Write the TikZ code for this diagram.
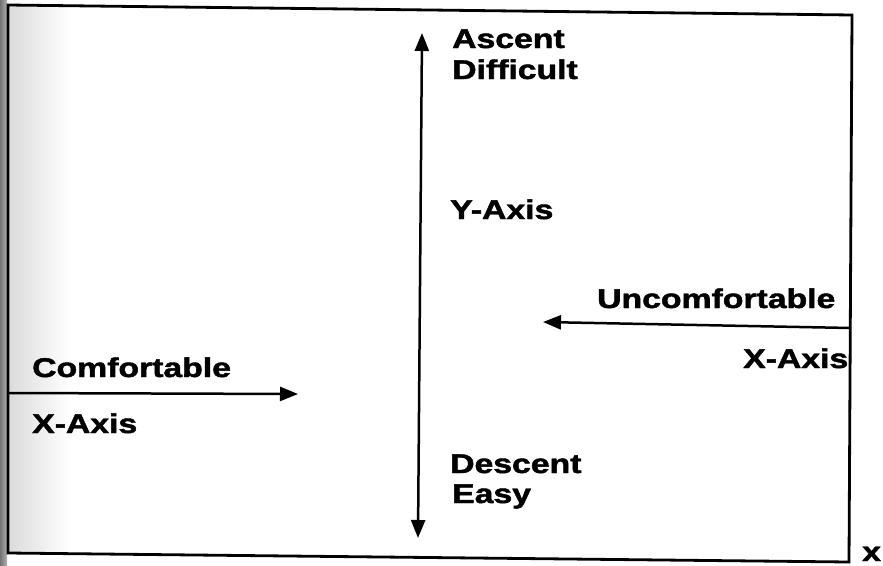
\documentclass[tikz,border=0pt]{standalone}
\usepackage{fontspec}
\usepackage{graphicx}
\setmainfont{Liberation Sans}
\newfontfamily\heavyfont{Liberation Sans Bold}[FakeBold=1.6]
\usetikzlibrary{arrows.meta}

% wide, heavy lettering
\newcommand{\widebf}[1]{\scalebox{1.25}[1]{\heavyfont #1}}

\tikzset{
  lbl/.style={anchor=base west, inner sep=0pt, font=\fontsize{27}{31}\selectfont},
  tip/.style={Triangle[length=18pt,width=14pt]},
  axisline/.style={line width=2.5pt, -{Triangle[length=18pt,width=14pt]}},
  frameline/.style={line width=2.8pt, line join=miter},
}

\begin{document}
\begin{tikzpicture}[x=1pt, y=-1pt]
  \useasboundingbox (0,0) rectangle (883,565);
  \fill[white] (0,0) rectangle (883,565);

  % worn left margin of the sheet
  \shade[left color=black!55, right color=black!30] (0,0) rectangle (7,565);
  \shade[left color=black!14, right color=white] (9,6) rectangle (70,553);

  % outer frame
  \coordinate (tl) at (8,5);
  \coordinate (tr) at (852,15);
  \coordinate (br) at (849,562);
  \coordinate (bl) at (8,553);
  \draw[frameline] (tl) -- (tr) -- (br) -- (bl) -- cycle;

  % vertical axis
  \coordinate (ytop) at (422,33);
  \coordinate (ybot) at (418,538);
  \draw[line width=2.5pt, {Triangle[length=18pt,width=14pt]}-{Triangle[length=18pt,width=14pt]}] (ybot) -- (ytop);

  % left horizontal axis
  \coordinate (lstart) at (8,393);
  \coordinate (lend) at (298,394);
  \draw[axisline] (lstart) -- (lend);

  % right horizontal axis
  \coordinate (rstart) at (851,328);
  \coordinate (rend) at (543,322);
  \draw[axisline] (rstart) -- (rend);

  % labels
  \node[lbl] (ascent) at (452,48) {\widebf{Ascent}};
  \node[lbl] (difficult) at (452,79) {\widebf{Difficult}};
  \node[lbl] (yaxis) at (450,219) {\widebf{Y-Axis}};
  \node[lbl] (descent) at (450,473) {\widebf{Descent}};
  \node[lbl] (easy) at (452,503) {\widebf{Easy}};
  \node[lbl] (uncomf) at (597,308) {\widebf{Uncomfortable}};
  \node[lbl] (xaxisr) at (743,368) {\widebf{X-Axis}};
  \node[lbl] (comf) at (32,377) {\widebf{Comfortable}};
  \node[lbl] (xaxisl) at (32,433) {\widebf{X-Axis}};
  \node[lbl] (xmark) at (862,561) {\widebf{x}};
\end{tikzpicture}
\end{document}
